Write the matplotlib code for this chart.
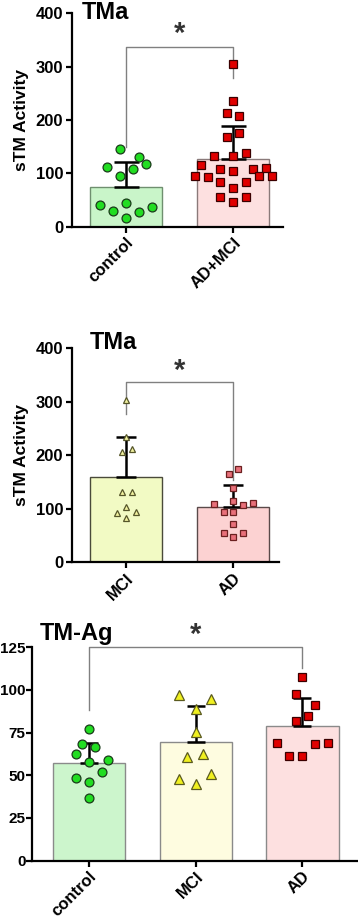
import numpy as np
import matplotlib
matplotlib.use('Agg')
import matplotlib.pyplot as plt

plt.rcParams['font.family'] = ['Liberation Sans', 'DejaVu Sans']
plt.rcParams['font.weight'] = 'bold'

# ---- panel 1: TMa, control vs AD+MCI
p1_groups = ['control', 'AD+MCI']
p1_means = [75, 126]
p1_sd = [47, 63]
p1_control = [145.6, 131, 117, 112, 109, 95, 40.6, 43.8, 37.5, 30, 27, 17]
p1_control_dx = [-0.056, 0.125, 0.184, -0.181, 0.062, -0.056, -0.244, 0, 0.24, -0.119, 0.125, 0]
p1_admci = [305, 235.6, 212.5, 207.5, 167.5, 175, 139, 132.5, 132.5, 115.6, 107.5, 105,
            107.5, 110.6, 95, 92.5, 95, 95, 83, 83, 72, 55, 55, 45.6]
p1_admci_dx = [0, 0, -0.056, 0.059, -0.056, 0.059, 0.125, -0.175, 0, -0.297, -0.119, 0,
               0.184, 0.306, -0.353, -0.237, 0.244, 0.366, -0.119, 0.125, 0, -0.119, 0.125, 0]

# ---- panel 2: TMa, MCI vs AD
p2_groups = ['MCI', 'AD']
p2_means = [159.5, 103]
p2_sd = [75.5, 41]
p2_mci = [303, 233.6, 205.6, 211, 131, 131, 104, 91.6, 93.5, 82]
p2_mci_dx = [0, 0, -0.04, 0.053, -0.04, 0.053, 0, -0.088, 0.094, 0]
p2_ad = [175, 166, 138, 115, 109, 110, 107, 95, 95, 72, 54, 55.5, 46.7]
p2_ad_dx = [0.05, -0.038, 0, 0, -0.175, 0.184, 0.094, -0.088, 0, 0, -0.088, 0.094, 0]

# ---- panel 3: TM-Ag
p3_groups = ['control', 'MCI', 'AD']
p3_means = [57.2, 69.7, 79.1]
p3_sd = [11.9, 20.9, 16.2]
p3_control = [77.1, 68.4, 66.4, 62.3, 57.6, 59, 48.2, 51.8, 46.3, 36.5]
p3_control_dx = [0, -0.062, 0.056, -0.122, 0, 0.175, -0.122, 0.119, 0, 0]
p3_mci = [97, 94.5, 89, 75.6, 61, 62.5, 47.9, 50.8, 45]
p3_mci_dx = [-0.153, 0.14, 0, 0, -0.078, 0.072, -0.153, 0.14, 0]
p3_ad = [107.8, 97.5, 91.2, 84.8, 81.8, 68.8, 68.2, 68.8, 61.5, 61.3]
p3_ad_dx = [0, -0.062, 0.119, 0.056, -0.062, -0.24, 0.119, 0.237, -0.122, 0]


def style_axes(ax, groups, ymax, yticks, xlim, ypad=2, ysize=12):
    for s in ['top', 'right']:
        ax.spines[s].set_visible(False)
    for s in ['left', 'bottom']:
        ax.spines[s].set_linewidth(1.6)
    ax.set_xlim(*xlim)
    ax.set_ylim(0, ymax)
    ax.set_yticks(yticks)
    ax.set_xticks(range(len(groups)))
    ax.set_xticklabels(groups, rotation=45, ha='right', rotation_mode='anchor',
                       fontsize=12, fontweight='bold')
    ax.tick_params(axis='both', width=1.6, length=4, pad=2)
    ax.tick_params(axis='y', pad=ypad, labelsize=ysize)
    for lab in ax.get_yticklabels():
        lab.set_fontweight('bold')


def bars(ax, means, sd, fills, edges, capsize):
    x = np.arange(len(means))
    ax.bar(x, means, width=0.675, color=fills, edgecolor=edges, linewidth=1.0, zorder=1)
    ax.errorbar(x, means, yerr=[np.zeros(len(sd)), sd], fmt='none', ecolor='black',
                elinewidth=1.8, capsize=capsize, capthick=1.8, zorder=2)


def points(ax, xc, vals, dx, marker, size, face, edge, ew=0.9):
    ax.plot(xc + np.array(dx), vals, linestyle='none', marker=marker, markersize=size,
            markerfacecolor=face, markeredgecolor=edge, markeredgewidth=ew,
            zorder=3, clip_on=False)


def bracket(ax, x1, x2, y, y1, y2, star_y):
    ax.plot([x1, x1, x2, x2], [y1, y, y, y2], color='#808080', linewidth=1.0,
            zorder=0, clip_on=False)
    ax.text((x1 + x2) / 2, star_y, '*', ha='center', va='center', fontsize=21,
            fontweight='bold', color='#333333')


fig = plt.figure(figsize=(3.58, 9.19), dpi=100)

# panel 1
ax1 = fig.add_axes([0.200, 0.7533, 0.591, 0.2322])
bars(ax1, p1_means, p1_sd, ['#c9f5c9', '#fde0e0'], ['#6f8f6f', '#8a7a7a'], 9)
points(ax1, 0, p1_control, p1_control_dx, 'o', 6.4, '#22dd22', '#1a3a1a')
points(ax1, 1, p1_admci, p1_admci_dx, 's', 6.0, '#e00000', '#3a0000')
style_axes(ax1, p1_groups, 400, [0, 100, 200, 300, 400], (-0.51, 1.47))
ax1.set_ylabel('sTM Activity', fontsize=12.5, fontweight='bold', labelpad=5)
bracket(ax1, 0, 1, 336, 150, 278, 362)
fig.text(0.228, 0.986, 'TMa', fontsize=17, fontweight='bold', va='center', ha='left')

# panel 2
ax2 = fig.add_axes([0.200, 0.3881, 0.578, 0.2329])
bars(ax2, p2_means, p2_sd, ['#f2fac4', '#fcd2d2'], ['#4a4a3a', '#5a4a4a'], 7)
points(ax2, 0, p2_mci, p2_mci_dx, '^', 4.5, '#f2f2a0', '#55552a')
points(ax2, 1, p2_ad, p2_ad_dx, 's', 4.6, '#e8707a', '#6a2020')
style_axes(ax2, p2_groups, 400, [0, 100, 200, 300, 400], (-0.51, 1.427))
ax2.set_ylabel('sTM Activity', fontsize=12.5, fontweight='bold', labelpad=5)
bracket(ax2, 0, 1, 337.7, 278, 154, 357)
fig.text(0.250, 0.627, 'TMa', fontsize=17, fontweight='bold', va='center', ha='left')

# panel 3
ax3 = fig.add_axes([0.0885, 0.0635, 0.9115, 0.2322])
bars(ax3, p3_means, p3_sd, ['#ccf5cc', '#fefce0', '#fde0e0'], ['#8a8a8a', '#8a8a8a', '#8a8a8a'], 6.5)
points(ax3, 0, p3_control, p3_control_dx, 'o', 6.4, '#22dd22', '#1a3a1a')
points(ax3, 1, p3_mci, p3_mci_dx, '^', 7.5, '#f0f020', '#5a5a20')
points(ax3, 2, p3_ad, p3_ad_dx, 's', 6.0, '#e00000', '#3a0000')
style_axes(ax3, p3_groups, 125, [0, 25, 50, 75, 100, 125], (-0.537, 2.52), ypad=0.5, ysize=11)
bracket(ax3, 0, 2, 125, 88, 112.7, 132)
fig.text(0.112, 0.311, 'TM-Ag', fontsize=17, fontweight='bold', va='center', ha='left')

fig.savefig('out.png', dpi=100)
